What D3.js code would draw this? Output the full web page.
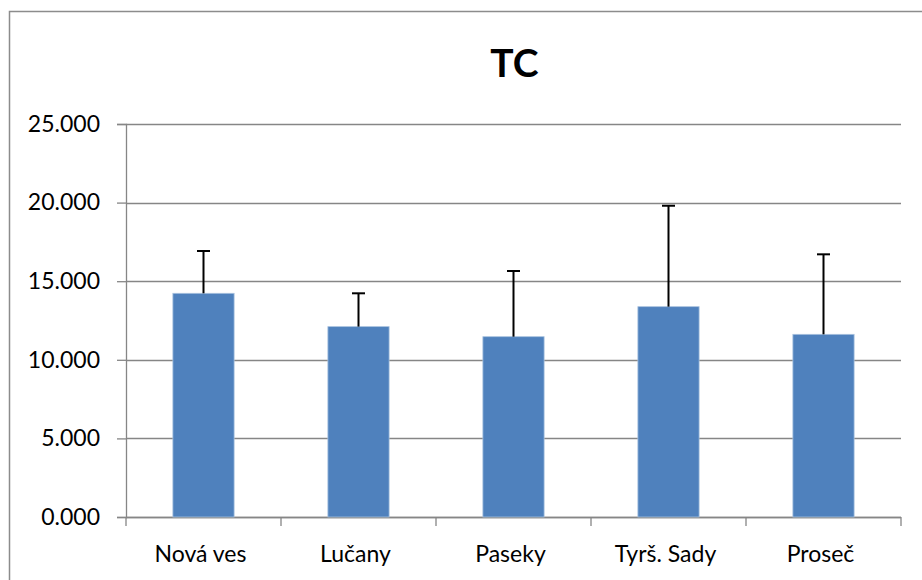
<!DOCTYPE html>
<html>
<head>
<meta charset="utf-8">
<script src="https://cdn.jsdelivr.net/npm/d3@7"></script>
<style>
  body { margin: 0; background: #fff; }
  text { font-family: Lato, "Open Sans", sans-serif; fill: #000; }
</style>
</head>
<body>
<script>
var categories = ["Nová ves", "Lučany", "Paseky", "Tyrš. Sady", "Proseč"];
var means = [14.23, 12.11, 11.47, 13.38, 11.62];
var errTops = [16.92, 14.23, 15.65, 19.80, 16.71];
var yTicks = [0, 5, 10, 15, 20, 25];

var width = 922, height = 580;
var margin = {top: 124, right: 21, bottom: 63, left: 126}
  , w = width - margin.left - margin.right
  , h = height - margin.top - margin.bottom;

var svg = d3.select("body").append("svg")
  .attr("width", width)
  .attr("height", height);

// outer chart frame (runs off the right and bottom edges)
svg.append("rect")
  .attr("x", 9.5).attr("y", 11.5)
  .attr("width", 930).attr("height", 600)
  .attr("fill", "none")
  .attr("stroke", "#8c8c8c")
  .attr("stroke-width", 1.5);

var x = d3.scaleBand().domain(categories).range([0, w]).paddingInner(0.605).paddingOuter(0.3025);
var xTickScale = d3.scaleLinear().domain([0, categories.length]).range([0, w]);
var y = d3.scaleLinear().domain([0, 25]).range([h, 0]);

var main = svg.append("g")
  .attr("transform", "translate(" + margin.left + "," + margin.top + ")");

// gridlines
main.selectAll(".grid").data(yTicks).enter().append("line")
  .attr("x1", 0).attr("x2", w)
  .attr("y1", function(d) { return Math.round(y(d)) + 0.5; })
  .attr("y2", function(d) { return Math.round(y(d)) + 0.5; })
  .attr("stroke", "#868686")
  .attr("stroke-width", 1.3);

// y axis
var yAxis = d3.axisLeft(y).tickValues(yTicks).tickSize(9).tickPadding(17)
  .tickFormat(function(d) { return d3.format(".3f")(d); });
var ya = main.append("g").call(yAxis);
ya.select(".domain").attr("stroke", "#868686").attr("stroke-width", 1.3);
ya.selectAll(".tick line").attr("stroke", "#868686").attr("stroke-width", 1.3);
ya.selectAll("text").style("font-size", "23px").attr("fill", "#000");

// x axis with ticks between categories
var xa = main.append("g").attr("transform", "translate(0," + h + ")");
xa.append("line").attr("x1", 0).attr("x2", w).attr("y1", 0.5).attr("y2", 0.5)
  .attr("stroke", "#868686").attr("stroke-width", 1.3);
xa.selectAll(".xt").data(d3.range(categories.length + 1)).enter().append("line")
  .attr("x1", function(d) { return xTickScale(d); })
  .attr("x2", function(d) { return xTickScale(d); })
  .attr("y1", 0).attr("y2", 9)
  .attr("stroke", "#868686").attr("stroke-width", 1.3);
xa.selectAll(".xl").data(categories).enter().append("text")
  .attr("x", function(d) { return x(d) + x.bandwidth() / 2 - 3; })
  .attr("y", 45)
  .attr("text-anchor", "middle")
  .style("font-size", "23px")
  .text(function(d) { return d; });

// bars
main.selectAll(".bar").data(categories).enter().append("rect")
  .attr("x", function(d) { return x(d); })
  .attr("y", function(d, i) { return y(means[i]); })
  .attr("width", x.bandwidth())
  .attr("height", function(d, i) { return h - y(means[i]); })
  .attr("fill", "#4f81bd")
  .attr("stroke", "#a9c2df")
  .attr("stroke-width", 0.8);

// error bars (upper only)
var eb = main.selectAll(".err").data(categories).enter().append("g");
eb.append("line")
  .attr("x1", function(d) { return x(d) + x.bandwidth() / 2; })
  .attr("x2", function(d) { return x(d) + x.bandwidth() / 2; })
  .attr("y1", function(d, i) { return y(means[i]); })
  .attr("y2", function(d, i) { return y(errTops[i]); })
  .attr("stroke", "#000").attr("stroke-width", 2);
eb.append("line")
  .attr("x1", function(d) { return x(d) + x.bandwidth() / 2 - 6.5; })
  .attr("x2", function(d) { return x(d) + x.bandwidth() / 2 + 6.5; })
  .attr("y1", function(d, i) { return y(errTops[i]); })
  .attr("y2", function(d, i) { return y(errTops[i]); })
  .attr("stroke", "#000").attr("stroke-width", 2);

// title
svg.append("text")
  .attr("x", margin.left + w / 2 + 1)
  .attr("y", 77)
  .attr("text-anchor", "middle")
  .style("font-size", "39px")
  .style("font-weight", "bold")
  .text("TC");
</script>
</body>
</html>
